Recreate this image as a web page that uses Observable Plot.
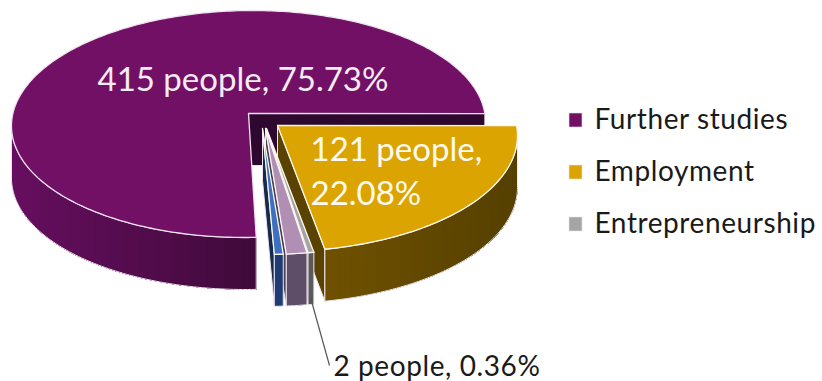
<!DOCTYPE html>
<html>
<head>
<meta charset="utf-8">
<script src="https://cdn.jsdelivr.net/npm/d3@7"></script>
<script src="https://cdn.jsdelivr.net/npm/@observablehq/plot@0.6"></script>
<style>
  html, body { margin: 0; padding: 0; background: #fff; }
  svg { display: block; }
  .spaced text, text.spaced { letter-spacing: 0.021em; }
</style>
</head>
<body>
<div id="chart"></div>
<script>
// Graduate destinations, clockwise from the front of the pie.
const categories = ["Further studies", "Employment", "Entrepreneurship", "Other (a)", "Other (b)"];
const people = [415, 121, 2, 7, 3];
const topColors = ["#721066", "#dba400", "#a5a5a5", "#b18fb5", "#3f70bf"];
const wallLeftColors = ["#660e5f", "#6e5000", "#5b5b5b", "#5f4e68", "#1f3d74"];
const wallRightColors = ["#3e0a38", "#554000", "#5b5b5b", "#5f4e68", "#1f3d74"];
const cutColors = ["#2f0830", "#5a4200", "#444444", "#4a3c52", "#16294e"];
const legendNames = ["Further studies", "Employment", "Entrepreneurship"];
const legendColors = ["#721066", "#dba400", "#a5a5a5"];

// Where each exploded slice sits: apex, radii of its rim ellipse, apex offset behind the
// rim centre, and a slight lean of the ellipse that stands in for perspective.
const placement = [
  {ax: 248, ay: 113, a: 237, b: 113.5, back: 10.5, lean: 4},
  {ax: 277, ay: 125, a: 240, b: 116, back: 10, lean: 0},
  {ax: 266, ay: 128, a: 240, b: 116, back: 10, lean: 0},
  {ax: 265, ay: 128, a: 240, b: 116, back: 10, lean: 0},
  {ax: 262, ay: 128, a: 240, b: 116, back: 10, lean: 0}
];
const depth = 52;
const startAngle = 177.4;
const total = d3.sum(people);
const pct = v => (v / total * 100).toFixed(2) + "%";

// Rim point for a ray leaving the apex at a given pie angle (degrees, clockwise from north).
function rim(p, deg) {
  const t = deg * Math.PI / 180, dx = Math.sin(t), dy = -Math.cos(t), e = p.back / p.b;
  const pd = e * Math.cos(t);
  const s = -pd + Math.sqrt(pd * pd - (e * e - 1));
  const qx = s * dx, qy = -e + s * dy;
  return {x: p.ax + p.a * qx - p.lean * qy, y: p.ay + p.back + p.b * qy, front: qy >= 0};
}

// Build the polygons back to front, each one a closed run of points.
const rows = [];
let nextId = 0;
function polygon(points, fill, stroke, strokeWidth) {
  const id = nextId++;
  for (const pt of [...points, points[0]]) rows.push({x: pt.x, y: pt.y, id, fill, stroke, strokeWidth});
}

let cursor = startAngle;
const spans = people.map(v => {
  const span = {from: cursor, to: cursor + v / total * 360};
  cursor = span.to;
  return span;
});

const outline = "#eee6ee";
function drawSlice(i) {
  const p = placement[i], {from, to} = spans[i];
  const steps = Math.max(2, Math.ceil((to - from)));
  const arc = d3.range(steps + 1).map(k => rim(p, from + (to - from) * k / steps));
  const apex = {x: p.ax, y: p.ay};
  const down = q => ({x: q.x, y: q.y + depth});

  // Cut face on the clockwise end of the slice.
  const end = arc[arc.length - 1];
  polygon([apex, end, down(end), down(apex)], cutColors[i], outline, 1);

  // Outer wall: bands that shade across the width, each one painted over the rest of
  // the wall so that no seams show between neighbours.
  const wall = arc.filter(q => q.front);
  if (wall.length > 1) {
    const xs = d3.extent(wall, q => q.x);
    const shade = d3.interpolateRgb(wallLeftColors[i], wallRightColors[i]);
    const ordered = wall.slice().sort((m, n) => m.x - n.x);
    const band = Math.max(1, Math.round(ordered.length / 24));
    for (let k = 0; k < ordered.length - 1; k += band) {
      const rest = ordered.slice(k);
      const c = shade((ordered[k].x - xs[0]) / (xs[1] - xs[0] || 1));
      polygon([...rest, ...rest.slice().reverse().map(down)], c, "none", 0);
    }
    polygon([...wall, ...wall.slice().reverse().map(down)], "none", outline, 1);
  }

  // Top face.
  polygon([apex, ...arc], topColors[i], i === 0 ? "#efe4ef" : "#fbf8f2", 1.3);
}
[0, 1, 2, 3, 4].forEach(drawSlice);

// Text and legend.
const insideLabels = [
  {text: `${people[0]} people, ${pct(people[0])}`, x: 97, y: 90, fill: "#f4ecf4"},
  {text: `${people[1]} people,`, x: 310, y: 160, fill: "#fffaf0"},
  {text: pct(people[1]), x: 310, y: 204, fill: "#fffaf0"}
];
const outsideLabel = [{text: `${people[2]} people, ${pct(people[2])}`, x: 333, y: 375}];
const leader = [{x1: 310, y1: 297, x2: 329, y2: 365}];
const legendRows = legendNames.map((name, i) => ({
  name, color: legendColors[i], x1: 569, x2: 582, y1: 113 + 52 * i, y2: 127 + 52 * i, tx: 594, ty: 128 + 52 * i
}));

const chart = Plot.plot({
  width: 822,
  height: 381,
  margin: 0,
  style: {background: "#fff"},
  x: {domain: [0, 822], range: [0, 822], axis: null},
  y: {domain: [0, 381], range: [0, 381], axis: null},
  color: {type: "identity"},
  marks: [
    Plot.line(rows, {
      x: "x", y: "y", z: "id",
      fill: "fill", stroke: "stroke", strokeWidth: "strokeWidth",
      curve: "linear", strokeLinejoin: "miter", strokeMiterlimit: 6
    }),
    Plot.link(leader, {x1: "x1", y1: "y1", x2: "x2", y2: "y2", stroke: "#555", strokeWidth: 1.2}),
    Plot.text(insideLabels, {
      x: "x", y: "y", text: "text", fill: "fill", textAnchor: "start", lineAnchor: "bottom",
      fontFamily: "Lato", fontSize: 33
    }),
    Plot.text(outsideLabel, {
      x: "x", y: "y", text: "text", fill: "#1a1a1a", textAnchor: "start", lineAnchor: "bottom",
      fontFamily: "Lato", fontSize: 28, className: "spaced"
    }),
    Plot.rect(legendRows, {x1: "x1", x2: "x2", y1: "y1", y2: "y2", fill: "color", stroke: "#e6e0e6", strokeWidth: 0.6}),
    Plot.text(legendRows, {
      x: "tx", y: "ty", text: "name", fill: "#1a1a1a", textAnchor: "start", lineAnchor: "bottom",
      fontFamily: "Lato", fontSize: 28, className: "spaced"
    })
  ]
});
document.getElementById("chart").appendChild(chart);
</script>
</body>
</html>
